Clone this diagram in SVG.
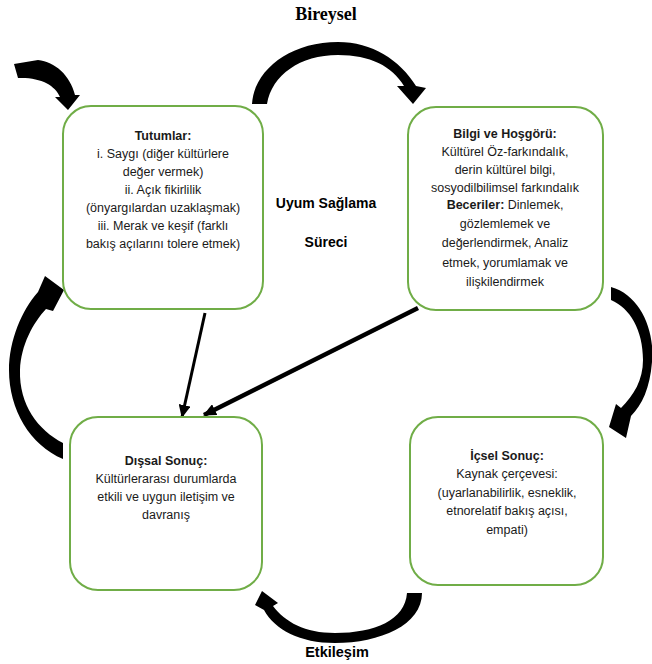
<svg xmlns="http://www.w3.org/2000/svg" width="652" height="664" viewBox="0 0 652 664">
<defs>
<style>
.box{fill:#fff;stroke:#70AD47;stroke-width:2}
.t{font-family:"Liberation Sans",Arial,sans-serif;font-size:12.5px;fill:#1a1a1a;text-anchor:middle}
.b{font-weight:bold}
.lbl{font-family:"Liberation Sans",Arial,sans-serif;font-weight:bold;fill:#000;text-anchor:middle}
.blk{fill:#000;stroke:none}
.ln{stroke:#000;fill:none}
</style>
<marker id="ah" markerUnits="userSpaceOnUse" markerWidth="14" markerHeight="12" refX="12" refY="6" orient="auto">
<path d="M0,0 L13,6 L0,12 Z" fill="#000"/>
</marker>
</defs>
<rect width="652" height="664" fill="#fff"/>

<text x="326" y="20" style="font-family:'Liberation Serif','Times New Roman',serif;font-size:18px;font-weight:bold;text-anchor:middle">Bireysel</text>
<text x="337" y="657" class="lbl" style="font-size:14.5px">Etkileşim</text>
<text x="326" y="208" class="lbl" style="font-size:14px">Uyum Sağlama</text>
<text x="326" y="247" class="lbl" style="font-size:14px">Süreci</text>

<g id="connectors">
<path class="blk" d="M252,104 C254,70 290,42 338,42 C372,42 400,60 416,86 L426,88 L413,104 L397,86 L404,86 C392,66 370,55 338,55 C300,55 272,75 267,104 Z"/>
<path class="blk" d="M14,64 L38,60 C55,62 70,75 75,95 L80,95 L68,110 L55,97 L60,97 C55,85 40,77 18,78 Z"/>
<path class="blk" d="M63,443 C38,430 19,405 20,370 C21,345 33,323 46,309 L53,311 L64,290 L45,276 L38,292 C22,310 9,340 9,370 C9,410 30,445 63,459 Z"/>
<path class="blk" d="M611,287 C640,295 655,330 652,362 C650,388 642,405 631,416 L626,438 L609,427 L616,404 L621,408 C634,395 643,380 643,360 C643,330 630,308 611,300 Z"/>
<path class="blk" d="M422,593 C422,625 380,643 335,643 C300,643 275,630 264,610 L255,605 L262,591 L278,603 L273,606 C285,622 305,633 335,633 C375,633 405,620 407,593 Z"/>
<line class="ln" x1="205" y1="313" x2="182" y2="417" stroke-width="3" marker-end="url(#ah)"/>
<line class="ln" x1="418" y1="308" x2="204" y2="415" stroke-width="4.5" marker-end="url(#ah)"/>
</g>

<g id="tutumlar">
<rect class="box" x="63" y="106" width="200" height="203" rx="28"/>
<text class="t b" x="163" y="140">Tutumlar:</text>
<text class="t" x="163" y="158">i. Saygı (diğer kültürlere</text>
<text class="t" x="163" y="176">değer vermek)</text>
<text class="t" x="163" y="194">ii. Açık fikirlilik</text>
<text class="t" x="163" y="212">(önyargılardan uzaklaşmak)</text>
<text class="t" x="163" y="230">iii. Merak ve keşif (farklı</text>
<text class="t" x="163" y="248">bakış açılarını tolere etmek)</text>
</g>

<g id="bilgi">
<rect class="box" x="408" y="107" width="195" height="203" rx="28"/>
<text class="t b" x="505" y="138">Bilgi ve Hoşgörü:</text>
<text class="t" x="505" y="156">Kültürel Öz-farkındalık,</text>
<text class="t" x="505" y="174">derin kültürel bilgi,</text>
<text class="t" x="505" y="192">sosyodilbilimsel farkındalık</text>
<text class="t" x="505" y="209"><tspan class="b">Beceriler:</tspan> Dinlemek,</text>
<text class="t" x="505" y="228">gözlemlemek ve</text>
<text class="t" x="505" y="247">değerlendirmek, Analiz</text>
<text class="t" x="505" y="267">etmek, yorumlamak ve</text>
<text class="t" x="505" y="286">ilişkilendirmek</text>
</g>

<g id="dissal">
<rect class="box" x="70" y="417" width="192" height="173" rx="28"/>
<text class="t b" x="166" y="465">Dışsal Sonuç:</text>
<text class="t" x="166" y="483">Kültürlerarası durumlarda</text>
<text class="t" x="166" y="501">etkili ve uygun iletişim ve</text>
<text class="t" x="166" y="519">davranış</text>
</g>

<g id="icsel">
<rect class="box" x="410" y="417" width="193" height="168" rx="28"/>
<text class="t b" x="507" y="460">İçsel Sonuç:</text>
<text class="t" x="507" y="478">Kaynak çerçevesi:</text>
<text class="t" x="507" y="497">(uyarlanabilirlik, esneklik,</text>
<text class="t" x="507" y="515">etnorelatif bakış açısı,</text>
<text class="t" x="507" y="534">empati)</text>
</g>
</svg>
